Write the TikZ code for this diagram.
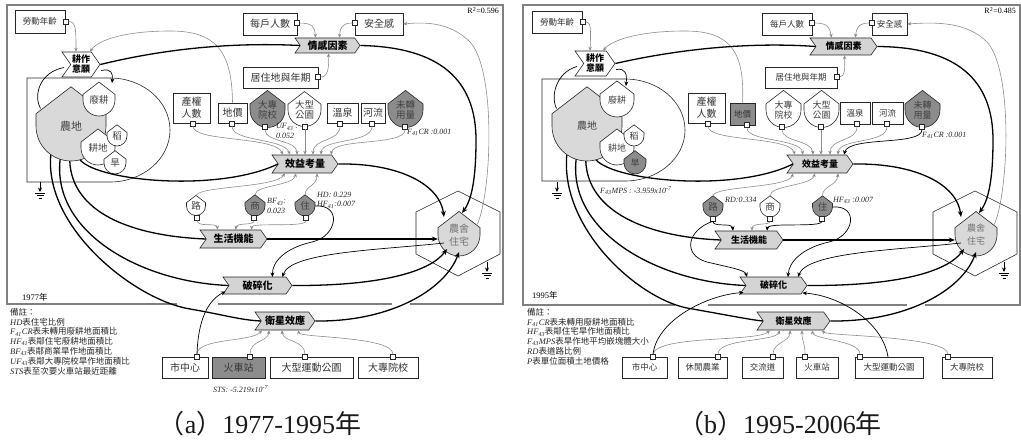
\documentclass[tikz,border=0pt]{standalone}
\usepackage{fontspec}
\setmainfont{Liberation Serif}
\newfontfamily\cjk{Noto Sans CJK TC}
\usetikzlibrary{shapes.symbols,arrows.meta,calc}
\tikzset{
 bx/.style={draw=black!85,line width=0.6pt,fill=white,inner sep=0pt,align=center,text=black!80,font=\cjk\fontsize{10}{12}\selectfont},
 bxs/.style={bx,font=\cjk\fontsize{8.5}{10.5}\selectfont},
 prt/.style={draw=black!85,line width=0.5pt,fill=white,minimum size=5pt,inner sep=0pt},
 chev/.style={signal,signal from=west,signal to=east,signal pointer angle=110,draw=black!85,line width=0.6pt,fill=black!17,inner sep=0pt,align=center,font=\cjk\bfseries\fontsize{10}{11}\selectfont},
 chevs/.style={chev,font=\cjk\bfseries\fontsize{9}{10}\selectfont},
 ga/.style={draw=black!45,line width=0.6pt,-{Stealth[length=4pt,width=3.5pt]}},
 ka/.style={draw=black,line width=1.3pt,-{Stealth[length=6pt,width=5pt]}},
 kl/.style={draw=black,line width=1.3pt},
 ta/.style={draw=black,line width=0.7pt,-{Stealth[length=4.5pt,width=4pt]}},
 tl/.style={draw=black,line width=0.7pt},
 frm/.style={draw=black!50,line width=2.4pt},
 lbl/.style={font=\itshape\fontsize{8}{9.5}\selectfont,inner sep=0pt,align=left,anchor=west,text=black!85},
 shl/.style={draw=black!85,line width=0.6pt},
 sht/.style={circle,inner sep=0pt,align=center,text=black!75,font=\cjk\fontsize{9.5}{10.5}\selectfont},
 notetxt/.style={anchor=north west,inner sep=0pt,align=left,font=\fontsize{8.5}{9.8}\selectfont,text=black!85},
 captxt/.style={font=\fontsize{26}{30}\selectfont,inner sep=0pt,text=black!90},
}
\newcommand\shieldat[7][]{%
 \draw[shl,fill=#6] ({#3+#5},{#4}) arc[start angle=0,end angle=180,radius=#5] -- ({#3-#5},{#4-0.35*#5}) -- ({#3},{#4-1.12*#5}) -- ({#3+#5},{#4-0.35*#5}) -- cycle;
 \node[sht,minimum size={2*#5pt},#1] (#2) at (#3,#4) {#7};}
\newcommand\groundat[3]{%
 \draw[ta] (#1,#2) -- (#1,#3);
 \draw[line width=0.6pt] ({#1-5},{#3+1}) -- ({#1+5},{#3+1}) ({#1-3.5},{#3+3.5}) -- ({#1+3.5},{#3+3.5}) ({#1-1.5},{#3+6}) -- ({#1+1.5},{#3+6});}
\begin{document}
\begin{tikzpicture}[x=1pt,y=-1pt]
\useasboundingbox (0,0) rectangle (1021,444);
% ================= panel (a) =================
\draw[frm] (177,304) -- (7,304) -- (7,5) -- (503,5) -- (503,304) -- (410,304);
\draw[frm] (218,304) -- (392,304);
\node[font=\fontsize{8}{9}\selectfont,inner sep=0pt,anchor=north east] (a-r2) at (499,7) {R\textsuperscript{2}=0.596};
\node[bx,font=\cjk\fontsize{8.5}{10}\selectfont,minimum width=50pt,minimum height=23pt] (a-ldnl) at (40,21.5) {勞動年齡};
\node[prt] (a-Pldnl) at (66,21.5) {};
\node[bx,minimum width=54pt,minimum height=22pt] (a-mhrs) at (270,24) {每戶人數};
\node[prt] (a-Pmhrs) at (297,23) {};
\node[bx,minimum width=48pt,minimum height=22pt] (a-aqg) at (379,24) {安全感};
\node[prt] (a-Paqg) at (355,23) {};
\node[chev,minimum width=65pt,minimum height=15pt] (a-qgys) at (327.5,45.5) {情感因素};
\node[bx,minimum width=75pt,minimum height=21pt] (a-jzd) at (280.5,77.5) {居住地與年期};
\node[prt] (a-Pjzd) at (318,77) {};
\node[chev,fill=white,minimum width=38pt,minimum height=25pt,font=\cjk\bfseries\fontsize{9}{10}\selectfont] (a-gzyy) at (81,64.5) {耕作\\意願};
% farmland group
\draw[shl,fill=white] (27,78) -- (110,78) arc[start angle=-90,end angle=90,x radius=60,y radius=52] -- (27,182) -- cycle;
\shieldat[font=\cjk\fontsize{11}{12}\selectfont]{a-nd}{71}{126}{35}{black!15}{農地}
\shieldat{a-fg}{99}{100}{16}{white}{廢耕}
\shieldat{a-gd}{98}{148}{17}{white}{耕地}
\shieldat{a-dao}{117}{136}{10}{white}{稻}
\shieldat{a-han}{115}{163}{11}{white}{旱}
\coordinate (a-Dtop) at (112,83);
\groundat{40}{182}{192}
% middle row
\node[bx,minimum width=37pt,minimum height=30pt] (a-cqrs) at (191.5,108) {產權\\人數};
\node[prt] (a-Pcqrs) at (193,123.5) {};
\node[bx,minimum width=29pt,minimum height=20pt] (a-dj) at (232.5,113) {地價};
\node[prt] (a-Pdj) at (232,123.5) {};
\shieldat{a-dzyx}{267.5}{110}{17.5}{black!45}{大專\\院校}
\node[prt] (a-Pdzyx) at (265,127) {};
\shieldat{a-dxgy}{304.5}{110}{16.5}{white}{大型\\公園}
\node[prt] (a-Pdxgy) at (305,126.5) {};
\node[bx,minimum width=31pt,minimum height=20pt] (a-wq) at (342.5,113) {溫泉};
\node[prt] (a-Pwq) at (340,123.5) {};
\node[bx,minimum width=24pt,minimum height=20pt] (a-hl) at (373,113) {河流};
\node[prt] (a-Phl) at (372,123.5) {};
\shieldat{a-wzy}{405.5}{110}{17.5}{black!45}{未轉\\用量}
\node[prt] (a-Pwzy) at (405,127) {};
\node[lbl] (a-uf) at (276,131) {UF\textsubscript{43} :\\ 0.052};
\node[lbl] (a-f41) at (407,132) {F\textsubscript{41}CR :0.001};
% chevrons
\node[chev,minimum width=66pt,minimum height=18pt] (a-xyks) at (305,164) {效益考量};
\node[chev,minimum width=67pt,minimum height=18pt] (a-shjn) at (233.5,239) {生活機能};
\node[chev,minimum width=69pt,minimum height=17pt] (a-psh) at (257.5,285.5) {破碎化};
\node[chev,minimum width=60pt,minimum height=18pt] (a-wxxy) at (285,321) {衛星效應};
% lower shields
\shieldat{a-lu}{196}{206}{9.5}{white}{路}
\node[prt] (a-Plu) at (197,217.5) {};
\shieldat{a-sh}{255}{206}{10}{black!45}{商}
\node[prt] (a-Psh) at (254,218) {};
\shieldat{a-zhu}{305}{206}{10}{black!45}{住}
\node[prt] (a-Pzhu) at (306,218) {};
\node[lbl] (a-bf) at (267,206) {BF\textsubscript{43}:\\ 0.023};
\node[lbl] (a-hd) at (317,200) {HD: 0.229\\ HF\textsubscript{41}:0.007};
% hexagon + house
\draw[shl] (458,191) -- (500,212) -- (500,254) -- (458,276) -- (416,254) -- (416,212) -- cycle;
\shieldat[text=black!55,font=\cjk\fontsize{10}{13}\selectfont]{a-nszz}{459}{235}{21}{black!15}{農舍\\住宅}
\groundat{487}{262}{272}
% bottom boxes
\node[bx,minimum width=46pt,minimum height=21pt] (a-szx) at (185,367.5) {市中心};
\node[prt] (a-Pszx) at (197,357) {};
\node[bx,fill=black!45,minimum width=53pt,minimum height=21pt] (a-hcz) at (238.5,367.5) {火車站};
\node[prt] (a-Phcz) at (250,357) {};
\node[bx,minimum width=83pt,minimum height=21pt] (a-dyg) at (311.5,367.5) {大型運動公園};
\node[prt] (a-Pdyg) at (305,357) {};
\node[bx,minimum width=60pt,minimum height=21pt] (a-dzy2) at (388,367.5) {大專院校};
\node[prt] (a-Pdzy2) at (393,357) {};
\node[lbl] (a-sts) at (213,389) {STS: -5.219x10\textsuperscript{-7}};
% notes, year, caption
\node[font=\fontsize{8.5}{10}\selectfont,anchor=west,inner sep=0pt] (a-year) at (22,297) {1977{\cjk 年}};
\node[notetxt] (a-notes) at (10,308) {{\cjk 備註：}\\
{\itshape HD}{\cjk 表住宅比例}\\
{\itshape F\textsubscript{41}CR}{\cjk 表未轉用廢耕地面積比}\\
{\itshape HF\textsubscript{41}}{\cjk 表鄰住宅廢耕地面積比}\\
{\itshape BF\textsubscript{43}}{\cjk 表鄰商業旱作地面積比}\\
{\itshape UF\textsubscript{43}}{\cjk 表鄰大專院校旱作地面積比}\\
{\itshape STS}{\cjk 表至次要火車站最近距離}};
\node[captxt] (a-cap) at (260,424) {{\cjk （}a{\cjk ）}1977-1995{\cjk 年}};
% gray connectors
\draw[ga] (a-Pldnl.east) .. controls (76,21.5) and (76,30) .. ([shift={(-5,0)}]a-gzyy.north);
\draw[ga] (a-dj.north) .. controls (232,50) and (215,31) .. (170,31) .. controls (125,31) and (98,40) .. ([shift={(9,0)}]a-gzyy.north);
\draw[ga] (a-Pmhrs.east) .. controls (313,23) and (315,28) .. ([shift={(-12,0)}]a-qgys.north);
\draw[ga] (a-Paqg.west) .. controls (342,23) and (340,28) .. ([shift={(12,0)}]a-qgys.north);
\draw[ga] (a-Pjzd.east) .. controls (328,77) and (329,68) .. ([shift={(1,0)}]a-qgys.south);
\draw[ga] (a-nszz.30) .. controls (492,190) and (496,70) .. (470,42) .. controls (450,22) and (425,22) .. (a-aqg.east);
\draw[ga] (a-Pcqrs.south) .. controls (193,142) and (275,136) .. ([shift={(-22,0)}]a-xyks.north);
\draw[ga] (a-Pdj.south) .. controls (232,142) and (284,138) .. ([shift={(-15,0)}]a-xyks.north);
\draw[ga] (a-Pdzyx.south) .. controls (265,142) and (297,140) .. ([shift={(-8,0)}]a-xyks.north);
\draw[ga] (a-Pdxgy.south) -- (a-Pdxgy.south |- a-xyks.north);
\draw[ga] (a-Pwq.south) .. controls (340,142) and (313,138) .. ([shift={(8,0)}]a-xyks.north);
\draw[ga] (a-Phl.south) .. controls (372,144) and (322,138) .. ([shift={(16,0)}]a-xyks.north);
\draw[ga] (a-Pwzy.south) .. controls (405,146) and (334,138) .. ([shift={(26,0)}]a-xyks.north);
\draw[ga] ([shift={(0,-10)}]a-lu.center) .. controls (196,186) and (275,188) .. ([shift={(-20,0)}]a-xyks.south);
\draw[ga] ([shift={(0,-11)}]a-sh.center) .. controls (255,185) and (293,186) .. ([shift={(-9,0)}]a-xyks.south);
\draw[ga] ([shift={(0,-11)}]a-zhu.center) .. controls (305,186) and (317,186) .. ([shift={(12,0)}]a-xyks.south);
\draw[ga] (a-Plu.south) .. controls (197,228) and (217,222) .. ([shift={(-16,0)}]a-shjn.north);
\draw[ga] (a-Psh.south) .. controls (254,226) and (237,222) .. ([shift={(2,0)}]a-shjn.north);
\draw[ga] (a-Pzhu.south) .. controls (306,228) and (252,222) .. ([shift={(18,0)}]a-shjn.north);
\draw[ga] (a-Pszx.north) .. controls (197,338) and (252,342) .. ([shift={(-23,0)}]a-wxxy.south);
\draw[ga] (a-Phcz.north) .. controls (250,340) and (268,342) .. ([shift={(-16,0)}]a-wxxy.south);
\draw[ga] (a-Pdyg.north) .. controls (305,340) and (283,342) .. ([shift={(-3,0)}]a-wxxy.south);
\draw[ga] (a-Pdzy2.north) .. controls (393,336) and (300,338) .. ([shift={(13,0)}]a-wxxy.south);
% thick connectors
\draw[kl] (a-gzyy.east) .. controls (180,45) and (250,43) .. (a-qgys.west);
\draw[ka] (a-qgys.east) .. controls (440,47) and (476,80) .. (476,140) .. controls (476,185) and (470,202) .. ([shift={(3,-22)}]a-nszz.center);
\draw[ka] (a-xyks.east) .. controls (400,163) and (440,185) .. ([shift={(-15,-18)}]a-nszz.center);
\draw[ka] (a-shjn.east) -- (a-shjn.east -| a-nszz.west);
\draw[ka] (a-psh.east) .. controls (380,286) and (430,272) .. ([shift={(-12,14)}]a-nszz.center);
\draw[ka] (a-wxxy.east) .. controls (390,322) and (445,290) .. ([shift={(0,17)}]a-nszz.center);
\draw[kl] (a-nd.-75) .. controls (100,182) and (220,192) .. (a-xyks.west);
\draw[kl] (a-nd.-92) .. controls (72,212) and (130,236) .. (a-shjn.west);
\draw[kl] (a-nd.-108) .. controls (52,232) and (140,282) .. (a-psh.west);
\draw[kl] (a-nd.-125) .. controls (44,228) and (135,300) .. (190,309) .. controls (225,315) and (240,320) .. (a-wxxy.west);
% thin black connectors
\draw[ta] ([shift={(-15,8)}]a-nszz.center) .. controls (380,250) and (290,252) .. ([shift={(25,-8.5)}]a-psh.center);
\draw[ta] (a-zhu.east) .. controls (342,204) and (338,236) .. (312,242) .. controls (285,248) and (272,262) .. ([shift={(15,-8.5)}]a-psh.center);
\draw[ta] (a-Pszx.north) .. controls (198,320) and (208,300) .. ([shift={(-32,6)}]a-psh.center);
\draw[ta] ([shift={(20,6)}]a-gzyy.center) .. controls (112,68) and (113,74) .. (a-Dtop);
\draw[tl] ([shift={(-17,3)}]a-gzyy.center) .. controls (40,72) and (33,95) .. (a-nd.150);
% ================= panel (b) =================
\begin{scope}[xshift=517pt]
\draw[frm] (158,305) -- (6,305) -- (6,5) -- (503,5) -- (503,305) -- (408,305);
\draw[frm] (191,305) -- (390,305);
\node[font=\fontsize{8}{9}\selectfont,inner sep=0pt,anchor=north east] (b-r2) at (499,7) {R\textsuperscript{2}=0.485};
\node[bxs,minimum width=50pt,minimum height=22pt] (b-ldnl) at (40,22) {勞動年齡};
\node[prt] (b-Pldnl) at (66,21.5) {};
\node[bxs,minimum width=50pt,minimum height=22pt] (b-mhrs) at (270,24) {每戶人數};
\node[prt] (b-Pmhrs) at (295,23) {};
\node[bxs,minimum width=35pt,minimum height=22pt] (b-aqg) at (372.5,24) {安全感};
\node[prt] (b-Paqg) at (355,23) {};
\node[chevs,minimum width=67pt,minimum height=17pt] (b-qgys) at (326.5,46.5) {情感因素};
\node[bxs,minimum width=72pt,minimum height=21pt] (b-jzd) at (284,77.5) {居住地與年期};
\node[prt] (b-Pjzd) at (320,77) {};
\node[chevs,fill=white,minimum width=40pt,minimum height=25pt] (b-gzyy) at (78,63.5) {耕作\\意願};
\draw[shl,fill=white] (25,79) -- (108,79) arc[start angle=-90,end angle=90,x radius=60,y radius=51] -- (25,181) -- cycle;
\shieldat[font=\cjk\fontsize{10}{12}\selectfont]{b-nd}{70}{126}{35}{black!15}{農地}
\shieldat[font=\cjk\fontsize{9}{10}\selectfont]{b-fg}{100}{100}{17}{white}{廢耕}
\shieldat[font=\cjk\fontsize{9}{10}\selectfont]{b-gd}{100}{148}{17}{white}{耕地}
\shieldat[font=\cjk\fontsize{9}{10}\selectfont]{b-dao}{117}{136}{10}{white}{稻}
\shieldat[font=\cjk\fontsize{9}{10}\selectfont]{b-han}{118}{163}{11}{black!45}{旱}
\coordinate (b-Dtop) at (109,86);
\groundat{40}{182}{192}
\node[bx,minimum width=37pt,minimum height=30pt] (b-cqrs) at (189.5,108) {產權\\人數};
\node[prt] (b-Pcqrs) at (191,123.5) {};
\node[bxs,fill=black!45,minimum width=25pt,minimum height=22pt] (b-dj) at (225.5,114) {地價};
\node[prt] (b-Pdj) at (230,125) {};
\shieldat[font=\cjk\fontsize{9}{10.5}\selectfont]{b-dzyx}{266.5}{110}{17.5}{white}{大專\\院校}
\node[prt] (b-Pdzyx) at (265,127) {};
\shieldat[font=\cjk\fontsize{9}{10.5}\selectfont]{b-dxgy}{304.5}{110}{17.5}{white}{大型\\公園}
\node[prt] (b-Pdxgy) at (304,127) {};
\node[bxs,minimum width=30pt,minimum height=22pt] (b-wq) at (338,113) {溫泉};
\node[prt] (b-Pwq) at (340,124) {};
\node[bxs,minimum width=31pt,minimum height=22pt] (b-hl) at (370.5,113) {河流};
\node[prt] (b-Phl) at (370,124) {};
\shieldat[font=\cjk\fontsize{9}{10.5}\selectfont]{b-wzy}{405.5}{110}{17.5}{black!45}{未轉\\用量}
\node[prt] (b-Pwzy) at (405,127) {};
\node[lbl] (b-f41) at (405,135) {F\textsubscript{41}CR :0.001};
\node[lbl] (b-mps) at (83,191) {F\textsubscript{43}MPS : -3.959x10\textsuperscript{-7}};
\node[chevs,minimum width=66pt,minimum height=18pt] (b-xyks) at (303,164) {效益考量};
\node[chevs,minimum width=68pt,minimum height=18pt] (b-shjn) at (232,240) {生活機能};
\node[chevs,minimum width=67pt,minimum height=17pt] (b-psh) at (256.5,285.5) {破碎化};
\node[chevs,minimum width=73pt,minimum height=18pt] (b-wxxy) at (276.5,321) {衛星效應};
\shieldat{b-lu}{196}{207}{10}{black!45}{路}
\node[prt] (b-Plu) at (196,218.5) {};
\shieldat{b-sh}{253}{207}{10}{white}{商}
\node[prt] (b-Psh) at (253,218.5) {};
\shieldat{b-zhu}{305.5}{207}{10}{black!45}{住}
\node[prt] (b-Pzhu) at (305,218.5) {};
\node[lbl] (b-rd) at (208,200) {RD:0.334};
\node[lbl] (b-hf) at (316,200) {HF\textsubscript{43} :0.007};
\draw[shl] (458,191) -- (500,212) -- (500,254) -- (458,276) -- (416,254) -- (416,212) -- cycle;
\shieldat[text=black!55,font=\cjk\fontsize{9}{13}\selectfont]{b-nszz}{459}{235}{21}{black!15}{農舍\\住宅}
\groundat{487}{262}{272}
\node[bxs,minimum width=45pt,minimum height=21pt] (b-szx) at (127.5,367.5) {市中心};
\node[prt] (b-Pszx) at (136,357) {};
\node[bxs,minimum width=49pt,minimum height=21pt] (b-xxny) at (185.5,367.5) {休閒農業};
\node[prt] (b-Pxxny) at (201,357) {};
\node[bxs,minimum width=41pt,minimum height=21pt] (b-jld) at (245.5,367.5) {交流道};
\node[prt] (b-Pjld) at (256,357) {};
\node[bxs,minimum width=42pt,minimum height=21pt] (b-hcz) at (300,367.5) {火車站};
\node[prt] (b-Phcz) at (288,357) {};
\node[bxs,minimum width=68pt,minimum height=21pt] (b-dyg) at (372,367.5) {大型運動公園};
\node[prt] (b-Pdyg) at (343,357) {};
\node[bxs,minimum width=50pt,minimum height=21pt] (b-dzy2) at (450,367.5) {大專院校};
\node[prt] (b-Pdzy2) at (431,357) {};
\node[font=\fontsize{8.5}{10}\selectfont,anchor=west,inner sep=0pt] (b-year) at (15,295) {1995{\cjk 年}};
\node[notetxt] (b-notes) at (10,308) {{\cjk 備註：}\\
{\itshape F\textsubscript{41}CR}{\cjk 表未轉用廢耕地面積比}\\
{\itshape HF\textsubscript{43}}{\cjk 表鄰住宅旱作地面積比}\\
{\itshape F\textsubscript{43}MPS}{\cjk 表旱作地平均嵌塊體大小}\\
{\itshape RD}{\cjk 表道路比例}\\
{\itshape P}{\cjk 表單位面積土地價格}};
\node[captxt] (b-cap) at (263,424) {{\cjk （}b{\cjk ）}1995-2006{\cjk 年}};
% gray
\draw[ga] (b-Pldnl.east) .. controls (74,21.5) and (74,30) .. ([shift={(-5,0)}]b-gzyy.north);
\draw[ga] (b-dj.north) .. controls (228,50) and (212,31) .. (168,31) .. controls (122,31) and (95,40) .. ([shift={(8,0)}]b-gzyy.north);
\draw[ga] (b-Pmhrs.east) .. controls (311,23) and (313,28) .. ([shift={(-12,0)}]b-qgys.north);
\draw[ga] (b-Paqg.west) .. controls (342,23) and (339,28) .. ([shift={(12,0)}]b-qgys.north);
\draw[ga] (b-Pjzd.east) .. controls (328,77) and (328,68) .. ([shift={(1,0)}]b-qgys.south);
\draw[ga] (b-nszz.30) .. controls (492,190) and (496,70) .. (470,42) .. controls (450,22) and (420,22) .. (b-aqg.east);
\draw[ga] (b-Pcqrs.south) .. controls (191,142) and (272,136) .. ([shift={(-25,0)}]b-xyks.north);
\draw[ga] (b-Pdj.south) .. controls (230,142) and (283,138) .. ([shift={(-17,0)}]b-xyks.north);
\draw[ga] (b-Pdzyx.south) .. controls (265,142) and (295,140) .. ([shift={(-7,0)}]b-xyks.north);
\draw[ga] (b-Pdxgy.south) -- (b-Pdxgy.south |- b-xyks.north);
\draw[ga] (b-Pwq.south) .. controls (340,142) and (313,138) .. ([shift={(10,0)}]b-xyks.north);
\draw[ga] (b-Phl.south) .. controls (370,144) and (322,138) .. ([shift={(18,0)}]b-xyks.north);
\draw[ta] (b-Pwzy.south) .. controls (405,146) and (332,136) .. ([shift={(24,0)}]b-xyks.north);
\draw[ga] ([shift={(0,-11)}]b-lu.center) .. controls (196,186) and (272,188) .. ([shift={(-27,0)}]b-xyks.south);
\draw[ga] ([shift={(0,-11)}]b-sh.center) .. controls (253,185) and (294,186) .. ([shift={(-5,0)}]b-xyks.south);
\draw[ga] ([shift={(0,-11)}]b-zhu.center) .. controls (305,186) and (320,186) .. ([shift={(18,0)}]b-xyks.south);
\draw[ta] (b-Plu.south) .. controls (196,228) and (215,222) .. ([shift={(-16,0)}]b-shjn.north);
\draw[ga] (b-Psh.south) .. controls (253,226) and (235,222) .. ([shift={(3,0)}]b-shjn.north);
\draw[ta] (b-Pzhu.south) .. controls (305,228) and (251,222) .. ([shift={(18,0)}]b-shjn.north);
\draw[ga] (b-Pszx.north) .. controls (140,335) and (240,342) .. ([shift={(-23.5,0)}]b-wxxy.south);
\draw[ga] (b-Pxxny.north) .. controls (201,338) and (258,342) .. ([shift={(-13.5,0)}]b-wxxy.south);
\draw[ga] (b-Pjld.north) .. controls (256,342) and (273,342) .. ([shift={(-3.5,0)}]b-wxxy.south);
\draw[ga] (b-Phcz.north) .. controls (288,342) and (285,342) .. ([shift={(8.5,0)}]b-wxxy.south);
\draw[ga] (b-Pdyg.north) .. controls (343,340) and (297,340) .. ([shift={(18.5,0)}]b-wxxy.south);
\draw[ga] (b-Pdzy2.north) .. controls (431,336) and (310,336) .. ([shift={(28.5,0)}]b-wxxy.south);
% thick
\draw[kl] (b-gzyy.east) .. controls (180,45) and (250,43) .. (b-qgys.west);
\draw[ka] (b-qgys.east) .. controls (440,47) and (476,80) .. (476,140) .. controls (476,185) and (470,202) .. ([shift={(3,-22)}]b-nszz.center);
\draw[ka] (b-xyks.east) .. controls (400,163) and (440,185) .. ([shift={(-15,-18)}]b-nszz.center);
\draw[ka] (b-shjn.east) -- (b-shjn.east -| b-nszz.west);
\draw[ka] (b-psh.east) .. controls (380,286) and (430,272) .. ([shift={(-12,14)}]b-nszz.center);
\draw[ka] (b-wxxy.east) .. controls (390,322) and (445,290) .. ([shift={(0,17)}]b-nszz.center);
\draw[kl] (b-nd.-75) .. controls (100,182) and (220,192) .. (b-xyks.west);
\draw[kl] (b-nd.-92) .. controls (71,212) and (130,237) .. (b-shjn.west);
\draw[kl] (b-nd.-108) .. controls (51,232) and (140,282) .. (b-psh.west);
\draw[kl] (b-nd.-125) .. controls (43,228) and (120,298) .. (170,308) .. controls (215,316) and (235,320) .. (b-wxxy.west);
% thin black
\draw[ta] ([shift={(-15,8)}]b-nszz.center) .. controls (380,250) and (290,252) .. ([shift={(24.5,-8.5)}]b-psh.center);
\draw[ta] (b-zhu.east) .. controls (342,205) and (338,236) .. (312,242) .. controls (285,248) and (272,262) .. ([shift={(14.5,-8.5)}]b-psh.center);
\draw[ta] (b-Plu.south) .. controls (170,230) and (165,255) .. (190,262) .. controls (215,268) and (228,270) .. ([shift={(-26.5,-8.5)}]b-psh.center);
\draw[ta] (b-Pszx.north) .. controls (140,320) and (190,295) .. ([shift={(-30,7)}]b-psh.center);
\draw[ta] ([shift={(-1,0)}]b-dyg.north) .. controls (365,320) and (320,295) .. ([shift={(29,7.5)}]b-psh.center);
\draw[ta] ([shift={(21,6)}]b-gzyy.center) .. controls (109,68) and (110,74) .. (b-Dtop);
\draw[tl] ([shift={(-18,3)}]b-gzyy.center) .. controls (40,72) and (33,95) .. (b-nd.150);
\end{scope}
\end{tikzpicture}
\end{document}
